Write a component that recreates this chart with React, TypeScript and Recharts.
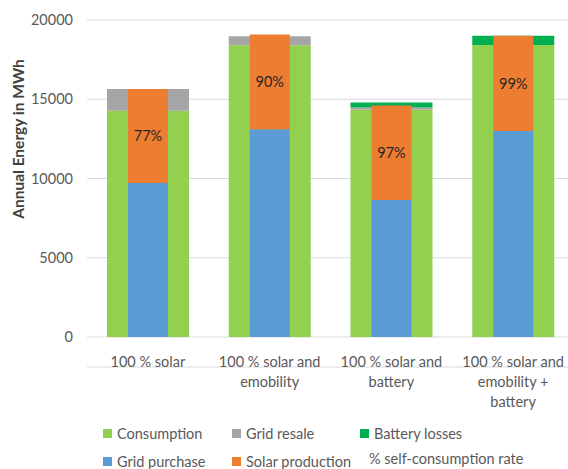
import React from 'react';
import { BarChart, Bar, XAxis, YAxis, CartesianGrid, LabelList } from 'recharts';

const categories = ['100 % solar', '100 % solar and emobility', '100 % solar and battery', '100 % solar and emobility + battery'];
const tickLines = [
  ['100 % solar'],
  ['100 % solar and', 'emobility'],
  ['100 % solar and', 'battery'],
  ['100 % solar and', 'emobility +', 'battery'],
];
const consumption = [14280, 18400, 14330, 18430];
const gridResale = [1370, 580, 145, 0];
const batteryLosses = [0, 0, 315, 570];
const gridPurchase = [9720, 13100, 8650, 13000];
const solarProduction = [5930, 5980, 5950, 6000];
const selfConsumptionRate = ['77%', '90%', '97%', '99%'];
const yTicks = [0, 5000, 10000, 15000, 20000];

const data = categories.map((name, i) => ({
  name,
  lines: tickLines[i],
  consumption: consumption[i],
  gridResale: gridResale[i],
  batteryLosses: batteryLosses[i],
  gridPurchase: gridPurchase[i],
  solarProduction: solarProduction[i],
  rate: selfConsumptionRate[i],
}));

const FONT = 'Lato, "Open Sans", sans-serif';
const TEXT = '#595959';

const XTick = (props: any) => {
  const { x, y, index } = props;
  const lines = tickLines[index] || [];
  return (
    <text x={x} y={y} textAnchor="middle" fill={TEXT} style={{ fontFamily: FONT, fontSize: 14.5 }}>
      {lines.map((l, i) => (
        <tspan key={i} x={x} dy={i === 0 ? 0 : 20}>{l}</tspan>
      ))}
    </text>
  );
};

const YLabel = () => (
  <text
    x={17.5}
    y={139}
    transform="rotate(-90 17.5 139)"
    textAnchor="middle"
    dominantBaseline="central"
    fill="#404040"
    style={{ fontFamily: FONT, fontSize: 15.5, fontWeight: 700 }}
  >
    Annual Energy in MWh
  </text>
);

const legendRow1 = [
  { name: 'Consumption', color: '#92D050', left: 103 },
  { name: 'Grid resale', color: '#A5A5A5', left: 232 },
  { name: 'Battery losses', color: '#00B050', left: 360 },
];
const legendRow2 = [
  { name: 'Grid purchase', color: '#5B9BD5', left: 103 },
  { name: 'Solar production', color: '#ED7D31', left: 232 },
];

export default function App() {
  return (
    <div style={{ position: 'absolute', left: 0, top: 0, width: 568, height: 469, overflow: 'hidden', background: '#fff' }}>
      <BarChart
        width={574}
        height={469}
        data={data}
        margin={{ top: 20, right: 0, bottom: 0, left: 0 }}
        barGap={0}
      >
        <CartesianGrid vertical={false} stroke="#D9D9D9" strokeWidth={1} />
        <XAxis
          xAxisId="wide"
          dataKey="name"
          height={132}
          tickLine={false}
          tickSize={0}
          tickMargin={0}
          axisLine={{ stroke: '#D9D9D9' }}
          tick={<XTick />}
          interval={0}
        />
        <XAxis xAxisId="narrow" dataKey="name" hide />
        <YAxis
          width={87}
          domain={[0, 20000]}
          ticks={yTicks}
          tickLine={false}
          tickSize={0}
          tickMargin={14}
          axisLine={false}
          tick={{ fill: TEXT, fontSize: 14.5, fontFamily: FONT }}
          label={<YLabel />}
        />
        <Bar xAxisId="wide" dataKey="consumption" stackId="w" fill="#92D050" barSize={82} isAnimationActive={false} />
        <Bar xAxisId="wide" dataKey="gridResale" stackId="w" fill="#A5A5A5" barSize={82} isAnimationActive={false} />
        <Bar xAxisId="wide" dataKey="batteryLosses" stackId="w" fill="#00B050" barSize={82} isAnimationActive={false} />
        <Bar xAxisId="narrow" dataKey="gridPurchase" stackId="n" fill="#5B9BD5" barSize={40} isAnimationActive={false} />
        <Bar xAxisId="narrow" dataKey="solarProduction" stackId="n" fill="#ED7D31" barSize={40} isAnimationActive={false}>
          <LabelList dataKey="rate" position="center" fill="#262626" style={{ fontFamily: FONT, fontSize: 14.5 }} />
        </Bar>
      </BarChart>
      <div style={{ position: 'absolute', left: 0, top: 0, width: 568, height: 469, pointerEvents: 'none', fontFamily: FONT, fontSize: 14.5, color: TEXT }}>
        {legendRow1.map((it) => (
          <div key={it.name} style={{ position: 'absolute', left: it.left, top: 424, height: 18, display: 'flex', alignItems: 'center', whiteSpace: 'nowrap' }}>
            <span style={{ display: 'inline-block', width: 9, height: 9, background: it.color, marginRight: 5 }} />
            <span>{it.name}</span>
          </div>
        ))}
        {legendRow2.map((it) => (
          <div key={it.name} style={{ position: 'absolute', left: it.left, top: 452, height: 18, display: 'flex', alignItems: 'center', whiteSpace: 'nowrap' }}>
            <span style={{ display: 'inline-block', width: 9, height: 9, background: it.color, marginRight: 5 }} />
            <span>{it.name}</span>
          </div>
        ))}
        <div style={{ position: 'absolute', left: 369, top: 449, height: 18, display: 'flex', alignItems: 'center', whiteSpace: 'nowrap' }}>
          <span>% self-consumption rate</span>
        </div>
      </div>
    </div>
  );
}
